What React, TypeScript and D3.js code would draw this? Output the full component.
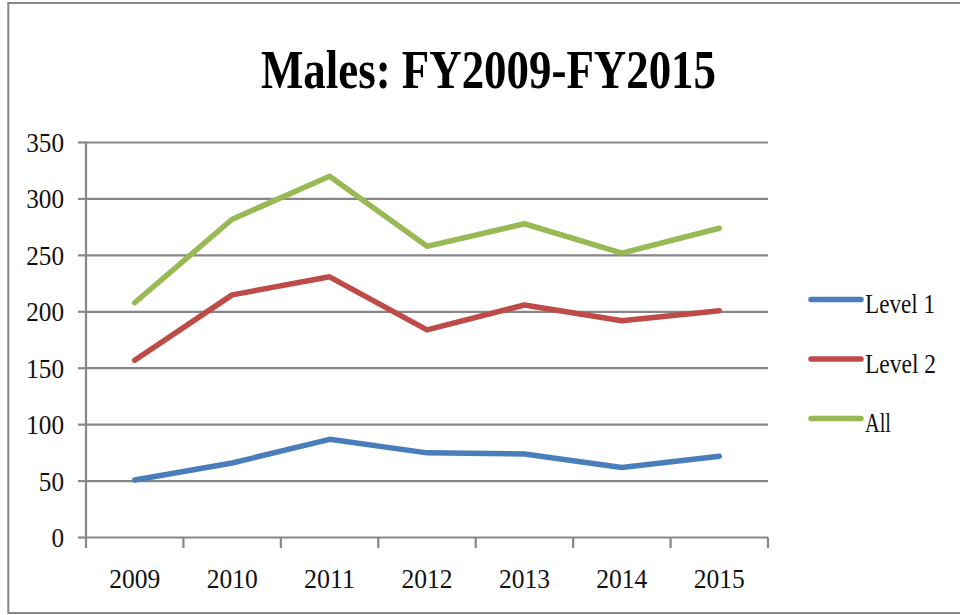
import React from "react";
import * as d3 from "d3";

const years = ["2009", "2010", "2011", "2012", "2013", "2014", "2015"];
const level1 = [51, 66, 87, 75, 74, 62, 72];
const level2 = [157, 215, 231, 184, 206, 192, 201];
const all = [208, 282, 320, 258, 278, 252, 274];
const yTicks = [0, 50, 100, 150, 200, 250, 300, 350];
const seriesNames = ["Level 1", "Level 2", "All"];
const seriesColors = ["#4A7EBB", "#BE4B48", "#98B954"];
const legendWidths = [70, 71, 26];

const W = 960;
const H = 615;
const left = 86;
const right = 768;
const top = 142.5;
const bottom = 537.5;
const fontFam = "'Liberation Serif', 'Times New Roman', serif";

export default function App() {
  const x = d3.scaleBand<string>().domain(years).range([left, right]).paddingInner(0).paddingOuter(0);
  const y = d3.scaleLinear().domain([0, 350]).range([bottom, top]);
  const line = d3
    .line<number>()
    .x((_, i) => (x(years[i]) as number) + x.bandwidth() / 2)
    .y((d) => y(d));
  const series = [level1, level2, all];
  const boundaries = years.map((yr) => x(yr) as number).concat([right]);

  return (
    <svg
      width={W}
      height={H}
      style={{ position: "absolute", left: 0, top: 0, background: "#fff" }}
    >
      <rect x={0} y={0} width={W} height={H} fill="#fff" />
      <rect x={8.3} y={3} width={1000} height={610} fill="none" stroke="#868686" strokeWidth={2} />
      <text
        x={488.5}
        y={87.5}
        textAnchor="middle"
        fontFamily={fontFam}
        fontWeight="bold"
        fontSize={55}
        textLength={455}
        lengthAdjust="spacingAndGlyphs"
        fill="#000"
      >
        Males: FY2009-FY2015
      </text>
      {yTicks.map((t) => (
        <g key={t}>
          <line x1={left} x2={right} y1={y(t)} y2={y(t)} stroke="#878787" strokeWidth={2.2} />
          <line x1={78} x2={left} y1={y(t)} y2={y(t)} stroke="#878787" strokeWidth={2.2} />
          <text
            x={64}
            y={y(t) + 9.5}
            textAnchor="end"
            fontFamily={fontFam}
            fontSize={28}
            textLength={12.6 * String(t).length}
            lengthAdjust="spacingAndGlyphs"
            fill="#111"
          >
            {t}
          </text>
        </g>
      ))}
      <line x1={left} x2={left} y1={top} y2={bottom} stroke="#878787" strokeWidth={2.2} />
      {boundaries.map((bx, i) => (
        <line key={i} x1={bx} x2={bx} y1={bottom} y2={548} stroke="#878787" strokeWidth={2.2} />
      ))}
      {years.map((yr) => (
        <text
          key={yr}
          x={(x(yr) as number) + x.bandwidth() / 2}
          y={588}
          textAnchor="middle"
          fontFamily={fontFam}
          fontSize={28}
          textLength={51}
          lengthAdjust="spacingAndGlyphs"
          fill="#111"
        >
          {yr}
        </text>
      ))}
      {series.map((s, i) => (
        <path
          key={i}
          d={line(s) as string}
          fill="none"
          stroke={seriesColors[i]}
          strokeWidth={5.5}
          strokeLinecap="round"
          strokeLinejoin="round"
        />
      ))}
      {seriesNames.map((n, i) => {
        const ly = 299.5 + i * 59.5;
        return (
          <g key={n}>
            <line x1={811} x2={861} y1={ly} y2={ly} stroke={seriesColors[i]} strokeWidth={5.5} strokeLinecap="round" />
            <text
              x={865}
              y={ly + 13.5}
              fontFamily={fontFam}
              fontSize={28}
              textLength={legendWidths[i]}
              lengthAdjust="spacingAndGlyphs"
              fill="#111"
            >
              {n}
            </text>
          </g>
        );
      })}
    </svg>
  );
}
